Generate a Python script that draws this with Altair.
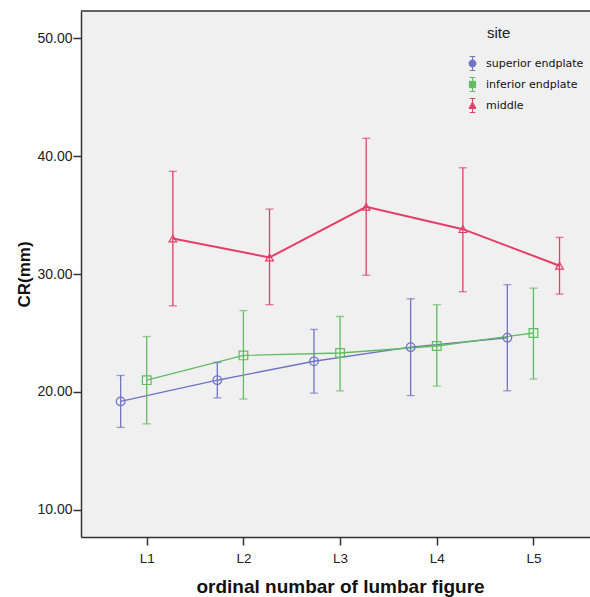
import altair as alt
import pandas as pd

levels = ["L1", "L2", "L3", "L4", "L5"]
sites = ["superior endplate", "inferior endplate", "middle"]

superior_mean = [19.2, 21.0, 22.6, 23.8, 24.6]
superior_low = [17.0, 19.5, 19.9, 19.7, 20.1]
superior_high = [21.4, 22.5, 25.3, 27.9, 29.1]

inferior_mean = [21.0, 23.1, 23.3, 23.9, 25.0]
inferior_low = [17.3, 19.4, 20.1, 20.5, 21.1]
inferior_high = [24.7, 26.9, 26.4, 27.4, 28.8]

middle_mean = [33.0, 31.4, 35.7, 33.8, 30.7]
middle_low = [27.3, 27.4, 29.9, 28.5, 28.3]
middle_high = [38.7, 35.5, 41.5, 39.0, 33.1]

colors = ["#6f74c4", "#5fbd5f", "#e63d66"]
shapes = ["circle", "square", "triangle-up"]
offsets = [-0.27, 0.0, 0.27]

series = {
    "superior endplate": (superior_mean, superior_low, superior_high),
    "inferior endplate": (inferior_mean, inferior_low, inferior_high),
    "middle": (middle_mean, middle_low, middle_high),
}

rows = []
for si, s in enumerate(sites):
    m, lo, hi = series[s]
    for li, lev in enumerate(levels):
        rows.append({"site": s, "level": lev, "x": li + 1 + offsets[si],
                     "mean": m[li], "low": lo[li], "high": hi[li]})
df = pd.DataFrame(rows)

W, H = 509, 526
xscale = alt.Scale(domain=[0.32, 5.585], nice=False, zero=False)
yscale = alt.Scale(domain=[7.71, 52.29], nice=False, zero=False)
cscale = alt.Scale(domain=sites, range=colors)

xaxis = alt.Axis(values=[1, 2, 3, 4, 5], labelExpr="'L' + datum.value", tickSize=8,
                 labelPadding=6, title="ordinal numbar of lumbar figure",
                 titleFontSize=19, titleFontWeight="bold", titlePadding=13,
                 titleX=259, titleAlign="center", grid=False)
yaxis = alt.Axis(values=[10, 20, 30, 40, 50], format=".2f", tickSize=8, labelPadding=1,
                 title="CR(mm)", titleFontSize=17, titleFontWeight="bold",
                 titlePadding=3, grid=False)

legend_paths = [
    "M0,-1V-0.5M0,0.5V1M-0.4,-1H0.4M-0.4,1H0.4M0.5,0A0.5,0.5,0,1,1,-0.5,0A0.5,0.5,0,1,1,0.5,0",
    "M0,-1V-0.45M0,0.45V1M-0.4,-1H0.4M-0.4,1H0.4M-0.45,-0.45H0.45V0.45H-0.45Z",
    "M0,-1V-0.5M0,0.42V1M-0.4,-1H0.4M-0.4,1H0.4M0,-0.5L0.5,0.42H-0.5Z",
]

leg = alt.Legend(
    title="\u2800\u2800site", orient="none", legendX=384, legendY=15,
    symbolSize=196, labelOffset=6, rowPadding=2, padding=0, titlePadding=15,
    titleFontSize=15, titleFont="Liberation Sans", titleFontWeight="normal",
    titleColor="#222", labelFont="DejaVu Sans", labelFontSize=11,
    labelColor="#111", symbolStrokeWidth=1.0, symbolFillColor="#f0f0f0")

base = alt.Chart(df)
X = alt.X("x:Q", scale=xscale, axis=xaxis)
Y = alt.Y("mean:Q", scale=yscale, axis=yaxis)
C = alt.Color("site:N", scale=cscale, legend=None)
SL = alt.Stroke("site:N", scale=cscale, legend=leg)
SH = alt.Shape("site:N", scale=alt.Scale(domain=sites, range=legend_paths), legend=leg)

legend_layer = base.transform_filter("false").mark_point(
    filled=False, strokeWidth=1.0, opacity=1, size=196
).encode(x=X, y=Y, stroke=SL, shape=SH, fill=alt.value("#f0f0f0"))

lines = base.mark_line().encode(
    x="x:Q", y="mean:Q", color=C, detail="site:N",
    strokeWidth=alt.condition("datum.site == 'middle'", alt.value(2.0), alt.value(1.4)),
)
whiskers = base.mark_rule(strokeWidth=1.3).encode(
    x="x:Q", y="low:Q", y2="high:Q", color=C)
caps_lo = base.mark_tick(size=8, thickness=1.3, orient="horizontal").encode(
    x="x:Q", y="low:Q", color=C)
caps_hi = base.mark_tick(size=8, thickness=1.3, orient="horizontal").encode(
    x="x:Q", y="high:Q", color=C)

points = []
for si, s in enumerate(sites):
    points.append(
        base.transform_filter(alt.datum.site == s).mark_point(
            filled=False, size=75 if shapes[si] != "triangle-up" else 60,
            strokeWidth=1.2, shape=shapes[si], opacity=1,
        ).encode(x="x:Q", y="mean:Q", color=C)
    )

border = alt.Chart(alt.InlineData(values=[{"a": 1}])).mark_rule(
    color="#333", strokeWidth=1.5
).encode(x=alt.value(0), x2=alt.value(W), y=alt.value(0))

chart = alt.layer(legend_layer, lines, whiskers, caps_lo, caps_hi, *points, border).properties(
    width=W, height=H,
    autosize=alt.AutoSizeParams(type="none"),
    padding={"left": 81, "top": 11, "right": 0, "bottom": 60},
    background="white",
).configure_view(fill="#f0f0f0", stroke=None).configure_axis(
    labelFont="Liberation Sans", titleFont="Liberation Sans",
    labelFontSize=14, labelColor="#222", titleColor="#111",
    domainColor="#333", domainWidth=1.5, tickColor="#333", tickWidth=1.5,
).configure_axisX(labelFontSize=13.5)

chart.save("out.html", embed_options={"renderer": "svg", "actions": False})
